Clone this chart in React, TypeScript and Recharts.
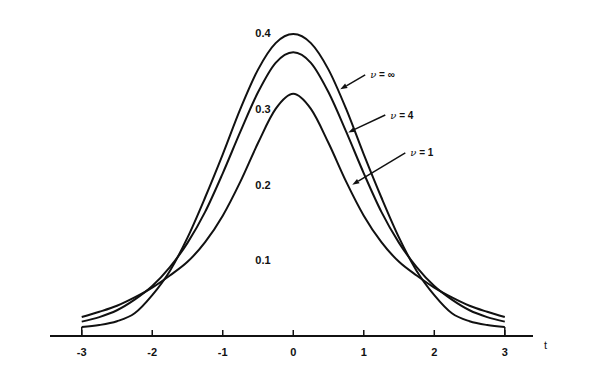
import { LineChart, Line, XAxis, YAxis, ReferenceLine, ReferenceDot } from 'recharts';

const tValues = [-3, -2.75, -2.5, -2.25, -2, -1.75, -1.5, -1.25, -1, -0.75, -0.5, -0.25, 0, 0.25, 0.5, 0.75, 1, 1.25, 1.5, 1.75, 2, 2.25, 2.5, 2.75, 3];

// nu = infinity (normal)
const normalDensity = [0.012, 0.0145, 0.0195, 0.03, 0.054, 0.086, 0.13, 0.183, 0.24, 0.3, 0.352, 0.387, 0.399, 0.387, 0.352, 0.3, 0.24, 0.183, 0.13, 0.086, 0.054, 0.03, 0.0195, 0.0145, 0.012];
// nu = 4
const t4Density = [0.019, 0.025, 0.034, 0.048, 0.066, 0.091, 0.123, 0.164, 0.215, 0.27, 0.322, 0.361, 0.375, 0.361, 0.322, 0.27, 0.215, 0.164, 0.123, 0.091, 0.066, 0.048, 0.034, 0.025, 0.019];
// nu = 1
const cauchyDensity = [0.025, 0.032, 0.04, 0.051, 0.064, 0.08, 0.098, 0.124, 0.159, 0.204, 0.255, 0.3, 0.32, 0.3, 0.255, 0.204, 0.159, 0.124, 0.098, 0.08, 0.064, 0.051, 0.04, 0.032, 0.025];

const xTicks = [-3, -2, -1, 0, 1, 2, 3];
const yLabels = [0.1, 0.2, 0.3, 0.4];

const data = tValues.map((t, i) => ({
  t,
  normal: normalDensity[i],
  t4: t4Density[i],
  cauchy: cauchyDensity[i],
}));

const callouts = [
  { sym: '∞', from: { x: 1.02, y: 0.345 }, to: { x: 0.667, y: 0.326 } },
  { sym: '4', from: { x: 1.305, y: 0.292 }, to: { x: 0.78, y: 0.269 } },
  { sym: '1', from: { x: 1.589, y: 0.242 }, to: { x: 0.837, y: 0.2 } },
];

const INK = '#111';
const FONT = '"Liberation Sans", Arial, sans-serif';

function UpTick(props: any) {
  const { x, y, payload } = props;
  return (
    <g>
      <line x1={x} y1={y} x2={x} y2={y - 6} stroke={INK} strokeWidth={1.5} />
      <text x={x} y={y + 20} textAnchor="middle" fontFamily={FONT} fontWeight="bold" fontSize={11} fill={INK}>
        {payload.value}
      </text>
    </g>
  );
}

function Arrow(props: any) {
  const { x1, y1, x2, y2 } = props;
  const dx = x2 - x1;
  const dy = y2 - y1;
  const len = Math.sqrt(dx * dx + dy * dy) || 1;
  const ux = dx / len;
  const uy = dy / len;
  const bx = x2 - ux * 7;
  const by = y2 - uy * 7;
  return (
    <g>
      <line x1={x1} y1={y1} x2={bx} y2={by} stroke={INK} strokeWidth={1.5} />
      <polygon points={`${x2},${y2} ${bx - uy * 2.5},${by + ux * 2.5} ${bx + uy * 2.5},${by - ux * 2.5}`} fill={INK} />
    </g>
  );
}

export default function App() {
  return (
    <div style={{ position: 'absolute', left: 0, top: 0, width: 595, height: 368, background: '#fff' }}>
      <LineChart width={595} height={368} data={data} margin={{ top: 3, right: 62, bottom: 2, left: 50 }}>
        <XAxis
          dataKey="t"
          type="number"
          domain={[-3.45, 3.4]}
          ticks={xTicks}
          tick={<UpTick />}
          tickLine={false}
          tickSize={0}
          tickMargin={0}
          height={30}
          axisLine={{ stroke: INK, strokeWidth: 2 }}
          allowDataOverflow
          label={{ value: 't', position: 'right', dx: 6, dy: -6, fontFamily: FONT, fontSize: 11, fill: INK }}
        />
        <YAxis hide domain={[0, 0.44]} allowDataOverflow />
        <Line type="monotone" dataKey="normal" stroke={INK} strokeWidth={2} dot={false} isAnimationActive={false} />
        <Line type="monotone" dataKey="t4" stroke={INK} strokeWidth={2} dot={false} isAnimationActive={false} />
        <Line type="monotone" dataKey="cauchy" stroke={INK} strokeWidth={2} dot={false} isAnimationActive={false} />
        <ReferenceLine segment={[{ x: -3, y: 0 }, { x: -3, y: normalDensity[0] }]} stroke={INK} strokeWidth={1.5} />
        <ReferenceLine segment={[{ x: 3, y: 0 }, { x: 3, y: normalDensity[normalDensity.length - 1] }]} stroke={INK} strokeWidth={1.5} />
        {yLabels.map((v) => (
          <ReferenceDot
            key={v}
            x={-0.43}
            y={v}
            r={0}
            shape={(p: any) => (
              <text x={p.cx} y={p.cy} dy={4} textAnchor="middle" fontFamily={FONT} fontWeight="bold" fontSize={11} fill={INK}>
                {v.toFixed(1)}
              </text>
            )}
          />
        ))}
        {callouts.map((c) => (
          <ReferenceLine key={`a-${c.sym}`} segment={[c.from, c.to]} shape={<Arrow />} />
        ))}
        {callouts.map((c) => (
          <ReferenceDot
            key={`l-${c.sym}`}
            x={c.from.x}
            y={c.from.y}
            r={0}
            shape={(p: any) => (
              <text x={p.cx + 5} y={p.cy} dy={3.5} fontFamily={FONT} fontWeight="bold" fontSize={10} fill={INK}>
                <tspan fontStyle="italic" fontFamily="'DejaVu Serif', serif" fontWeight="normal">ν</tspan>
                {` = ${c.sym}`}
              </text>
            )}
          />
        ))}
      </LineChart>
    </div>
  );
}
